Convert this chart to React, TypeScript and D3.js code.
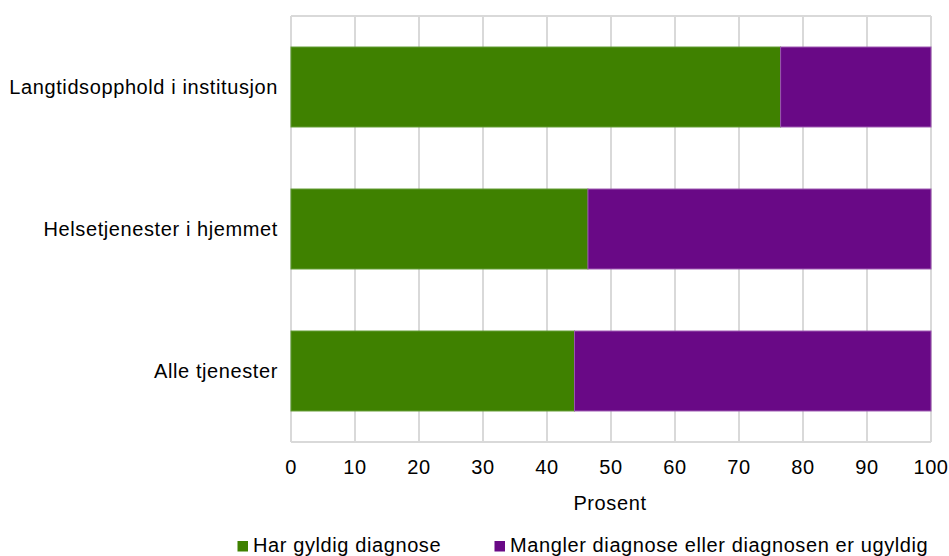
import React from "react";
import * as d3 from "d3";

const categories = ["Langtidsopphold i institusjon", "Helsetjenester i hjemmet", "Alle tjenester"];
const seriesNames = ["Har gyldig diagnose", "Mangler diagnose eller diagnosen er ugyldig"];
const harGyldig = [76.5, 46.4, 44.3];
const mangler = [23.5, 53.6, 55.7];
const xTicks = [0, 10, 20, 30, 40, 50, 60, 70, 80, 90, 100];
const colors = ["#3f8100", "#690986"];
const strokes = ["#5f9a30", "#9b55b0"];

export default function App() {
  const W = 949, H = 556;
  const left = 291, right = 931, top = 16, bottom = 442;
  const x = d3.scaleLinear().domain([0, 100]).range([left, right]);
  const y = d3.scaleBand<string>().domain(categories).range([top, bottom]).paddingInner(0.437).paddingOuter(0.2185);
  const font = "Liberation Sans, Arial, sans-serif";
  const fs = 20;
  const ls = 0.6;
  const stack = d3.stack<any>().keys(["a", "b"])(categories.map((c, i) => ({ c, a: harGyldig[i], b: mangler[i] })));
  return (
    <svg width={W} height={H} style={{ position: "absolute", left: 0, top: 0, background: "#fff" }} fontFamily={font}>
      {xTicks.map((t) => (
        <line key={t} x1={x(t)} x2={x(t)} y1={top} y2={bottom} stroke="#d9d9d9" strokeWidth={2} />
      ))}
      <line x1={left} x2={right} y1={top} y2={top} stroke="#d9d9d9" strokeWidth={2} />
      <line x1={left} x2={right} y1={bottom} y2={bottom} stroke="#d9d9d9" strokeWidth={2} />
      {stack.map((s, si) =>
        s.map((d, i) => (
          <rect key={si + "-" + i} x={x(d[0])} y={y(categories[i])} width={x(d[1]) - x(d[0])} height={y.bandwidth()}
            fill={colors[si]} stroke={strokes[si]} strokeWidth={1} />
        ))
      )}
      {categories.map((c) => (
        <text key={c} x={278} y={(y(c) as number) + y.bandwidth() / 2 + 7} textAnchor="end" fontSize={fs} letterSpacing={ls} fill="#000">{c}</text>
      ))}
      {xTicks.map((t) => (
        <text key={t} x={x(t)} y={474} textAnchor="middle" fontSize={fs} letterSpacing={ls} fill="#000">{t}</text>
      ))}
      <text x={(left + right) / 2 - 1} y={510} textAnchor="middle" fontSize={fs} letterSpacing={ls} fill="#000">Prosent</text>
      <rect x={237.5} y={541} width={10.5} height={10.5} fill={colors[0]} />
      <text x={253} y={552} fontSize={fs} letterSpacing={ls} fill="#000">{seriesNames[0]}</text>
      <rect x={494.5} y={541} width={10.5} height={10.5} fill={colors[1]} />
      <text x={510} y={552} fontSize={fs} letterSpacing={ls} fill="#000">{seriesNames[1]}</text>
    </svg>
  );
}
